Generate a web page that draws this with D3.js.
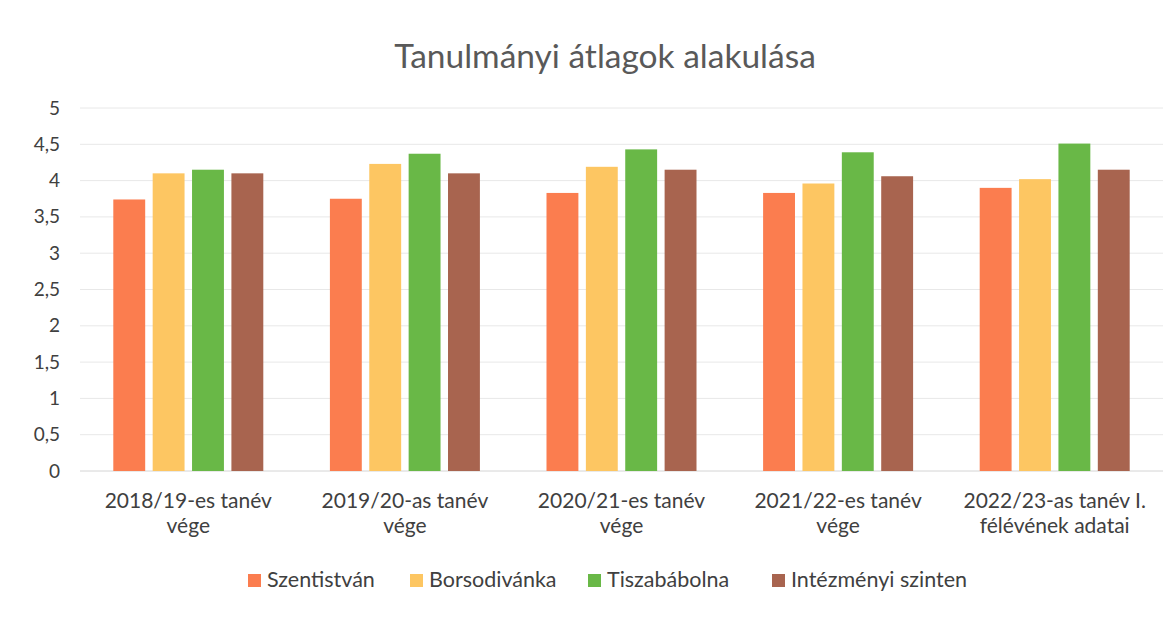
<!DOCTYPE html>
<html>
<head>
<meta charset="utf-8">
<script src="https://cdn.jsdelivr.net/npm/d3@7"></script>
<style>
  body { margin: 0; background: #fff; }
  svg text { font-family: Lato, "Open Sans", sans-serif; }
</style>
</head>
<body>
<svg id="chart" width="1176" height="619"></svg>
<script>
const categories = [
  ["2018/19-es tanév", "vége"],
  ["2019/20-as tanév", "vége"],
  ["2020/21-es tanév", "vége"],
  ["2021/22-es tanév", "vége"],
  ["2022/23-as tanév I.", "félévének adatai"]
];
const seriesNames = ["Szentistván", "Borsodivánka", "Tiszabábolna", "Intézményi szinten"];
const szentistvan = [3.74, 3.75, 3.83, 3.83, 3.9];
const borsodivanka = [4.1, 4.23, 4.19, 3.96, 4.02];
const tiszababolna = [4.15, 4.37, 4.43, 4.39, 4.51];
const intezmenyi = [4.1, 4.1, 4.15, 4.06, 4.15];
const yTicks = [0, 0.5, 1, 1.5, 2, 2.5, 3, 3.5, 4, 4.5, 5];
const colors = ["#fb7d4f", "#fdc662", "#69b847", "#a8644f"];

const seriesValues = [szentistvan, borsodivanka, tiszababolna, intezmenyi];

const svg = d3.select("#chart"),
  plotLeft = 80,
  plotRight = 1163,
  plotTop = 108,
  plotBottom = 471;

const x0 = d3.scaleBand()
  .domain(d3.range(categories.length))
  .range([plotLeft, plotRight])
  .paddingInner(0)
  .paddingOuter(0);

const groupInner = 150; // width occupied by the four bars
const x1 = d3.scaleBand()
  .domain(d3.range(seriesNames.length))
  .range([(x0.bandwidth() - groupInner) / 2, (x0.bandwidth() + groupInner) / 2])
  .paddingInner(0.19)
  .paddingOuter(0);

const y = d3.scaleLinear().domain([0, 5]).range([plotBottom, plotTop]);

// title
svg.append("text")
  .attr("x", 605)
  .attr("y", 68)
  .attr("text-anchor", "middle")
  .attr("font-size", "33.5px")
  .attr("fill", "#595959")
  .text("Tanulmányi átlagok alakulása");

// gridlines
svg.append("g")
  .selectAll("line")
  .data(yTicks)
  .enter()
  .append("line")
  .attr("x1", plotLeft)
  .attr("x2", plotRight)
  .attr("y1", (d) => y(d))
  .attr("y2", (d) => y(d))
  .attr("stroke", (d) => (d === 0 ? "#d4d4d4" : "#e8e8e8"))
  .attr("stroke-width", 1);

// y axis labels
const yAxis = d3.axisLeft(y)
  .tickValues(yTicks)
  .tickSize(0)
  .tickPadding(0)
  .tickFormat((d) => String(d).replace(".", ","));

svg.append("g")
  .attr("transform", `translate(60,0)`)
  .call(yAxis)
  .call((g) => g.select(".domain").remove())
  .selectAll("text")
  .attr("font-size", "19px")
  .attr("fill", "#404040")
  .attr("font-family", "Lato, sans-serif");

// bars
const groups = svg.append("g")
  .selectAll("g")
  .data(categories.map((c, i) => i))
  .enter()
  .append("g")
  .attr("transform", (i) => `translate(${x0(i)},0)`);

groups.selectAll("rect")
  .data((i) => seriesValues.map((vals, s) => ({ s: s, v: vals[i] })))
  .enter()
  .append("rect")
  .attr("x", (d) => x1(d.s))
  .attr("width", x1.bandwidth())
  .attr("y", (d) => y(d.v))
  .attr("height", (d) => y(0) - y(d.v))
  .attr("fill", (d) => colors[d.s]);

// category labels
const xLabels = svg.append("g")
  .selectAll("text")
  .data(categories)
  .enter()
  .append("text")
  .attr("x", (d, i) => x0(i) + x0.bandwidth() / 2)
  .attr("y", 508)
  .attr("text-anchor", "middle")
  .attr("font-size", "21px")
  .attr("fill", "#404040");

xLabels.selectAll("tspan")
  .data((d) => d)
  .enter()
  .append("tspan")
  .attr("x", function () { return d3.select(this.parentNode).attr("x"); })
  .attr("dy", (d, i) => (i === 0 ? 0 : 25))
  .text((d) => d);

// legend
const legendX = [248, 410, 588, 772];
const legend = svg.append("g")
  .selectAll("g")
  .data(seriesNames)
  .enter()
  .append("g")
  .attr("transform", (d, i) => `translate(${legendX[i]},574)`);

legend.append("rect")
  .attr("width", 13)
  .attr("height", 13)
  .attr("fill", (d, i) => colors[i]);

legend.append("text")
  .attr("x", 19)
  .attr("y", 13)
  .attr("font-size", "21.5px")
  .attr("fill", "#404040")
  .text((d) => d);
</script>
</body>
</html>
